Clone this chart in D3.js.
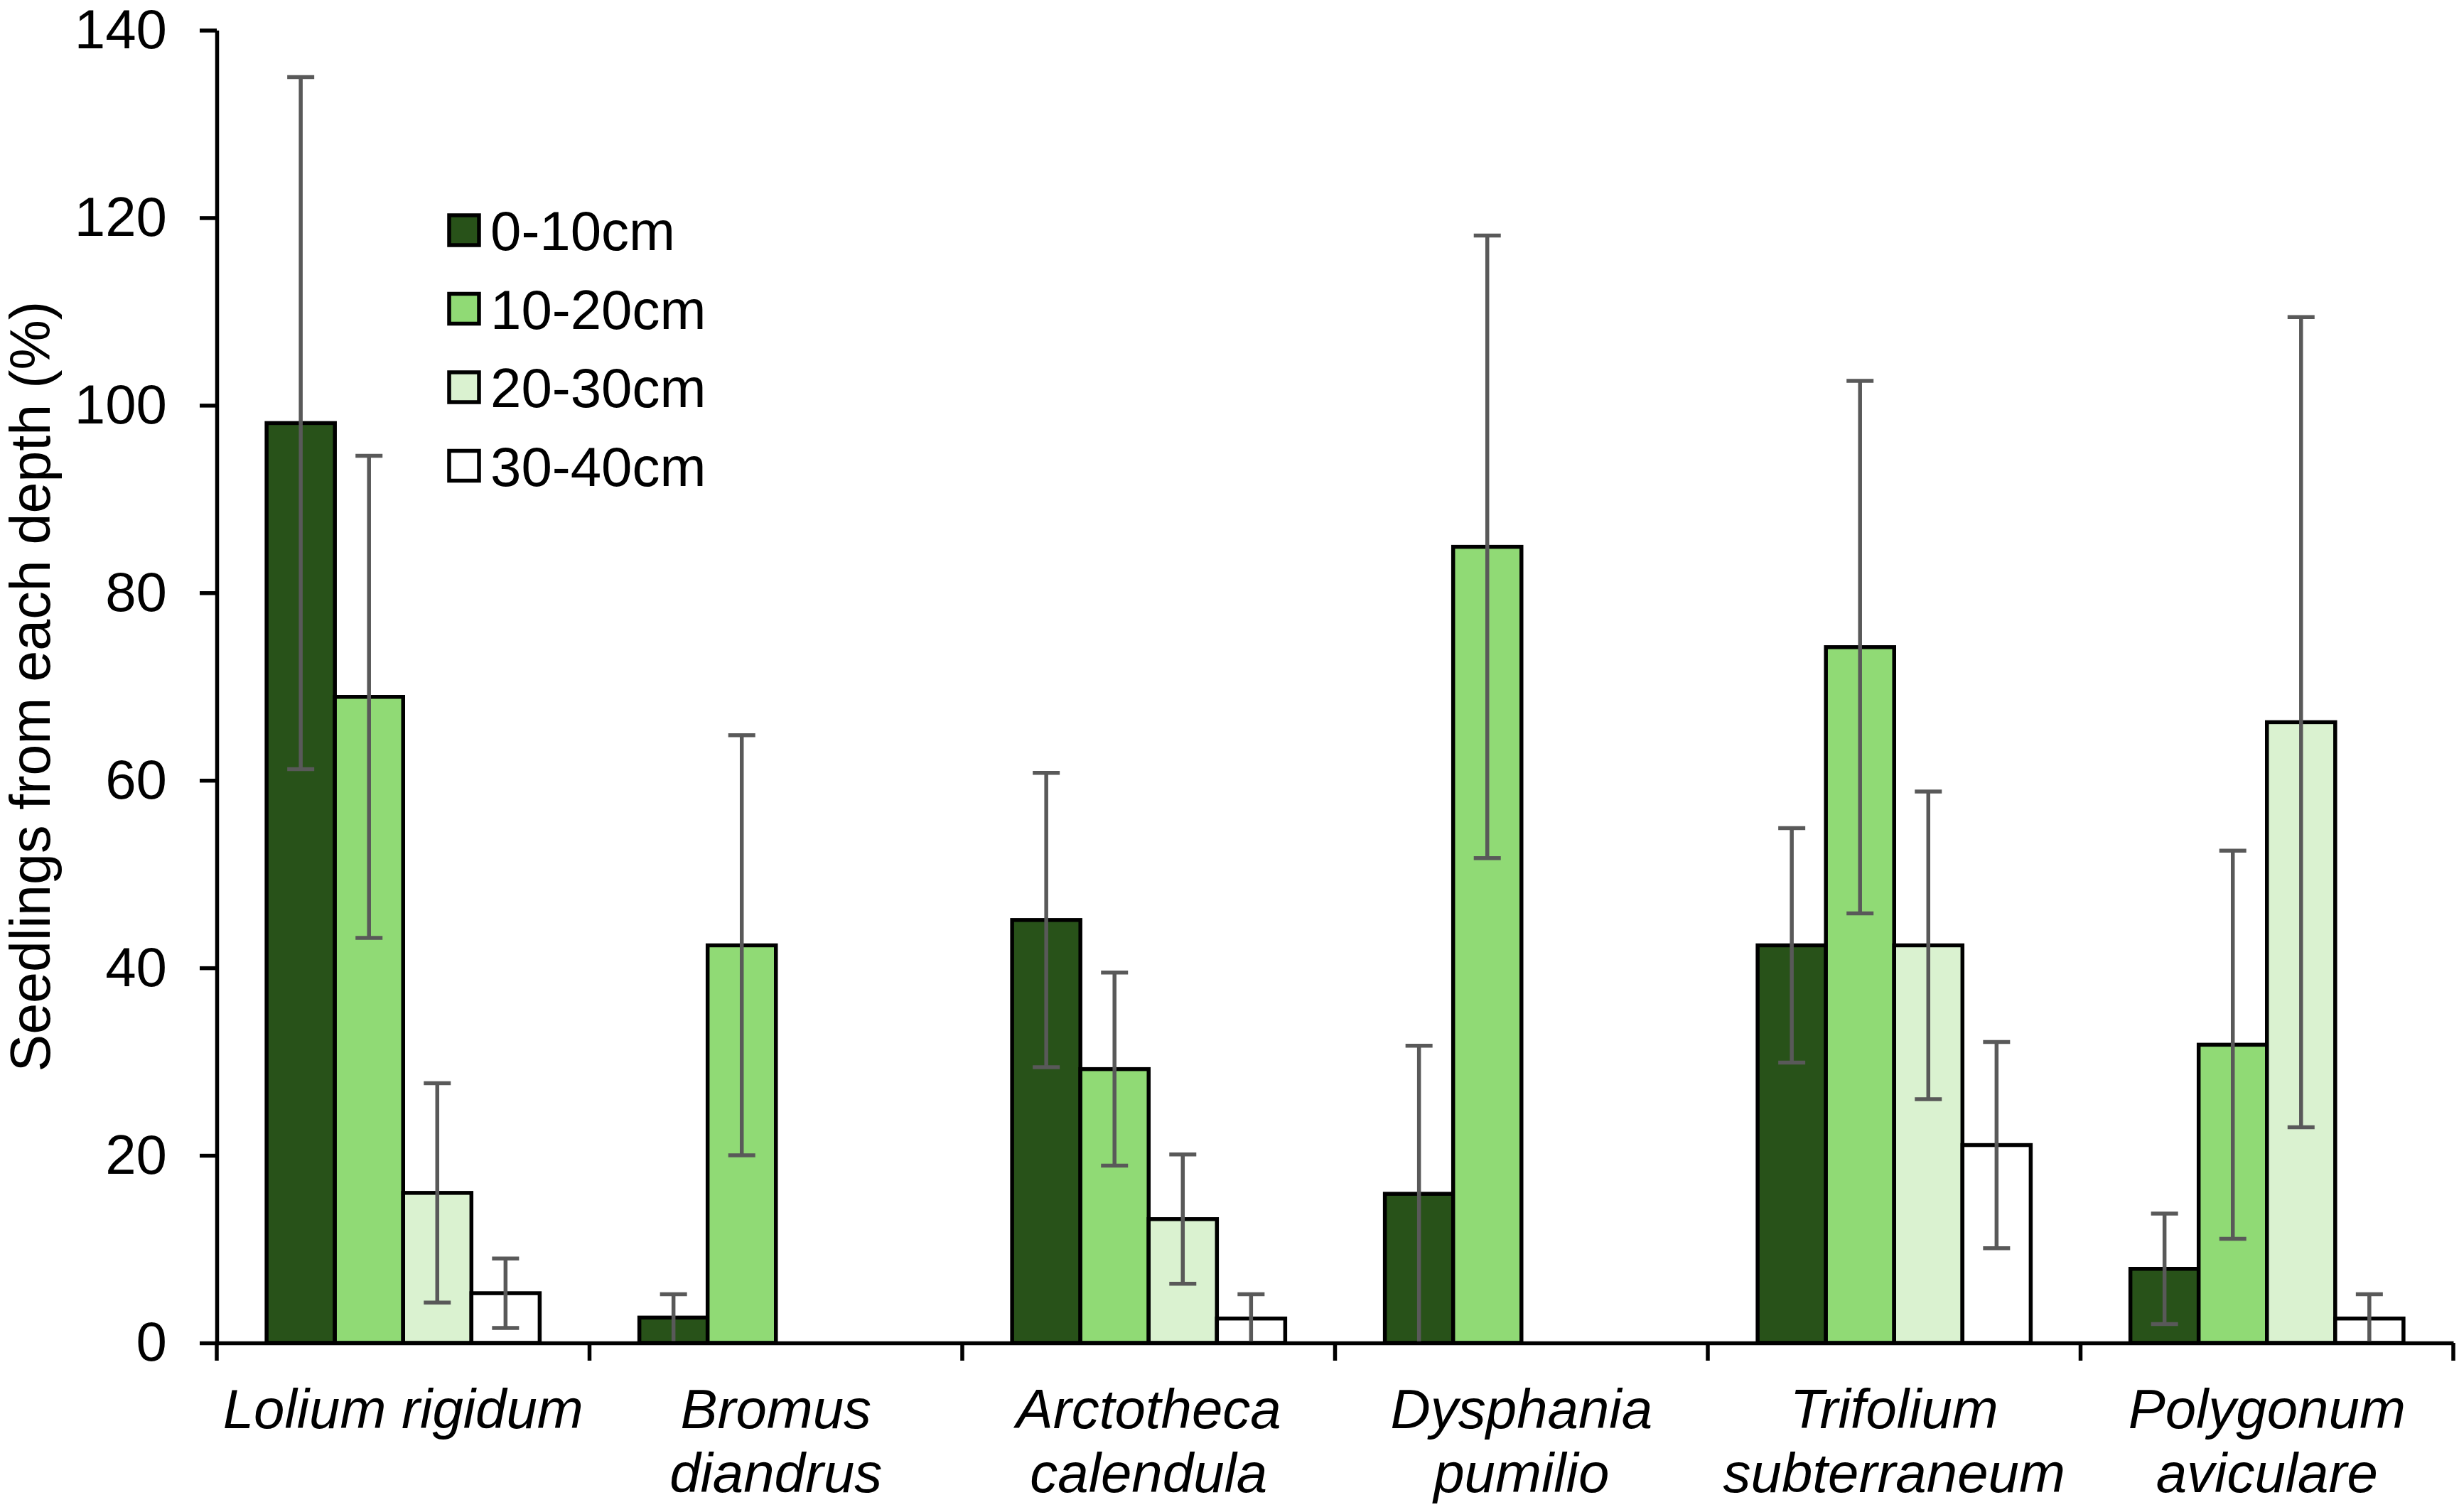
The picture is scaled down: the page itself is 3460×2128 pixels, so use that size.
<!DOCTYPE html>
<html>
<head>
<meta charset="utf-8">
<script src="https://cdn.jsdelivr.net/npm/d3@7"></script>
<style>
  body { margin: 0; background: #fff; }
  svg text { font-family: "Liberation Sans", Arial, sans-serif; fill: #000; }
</style>
</head>
<body>
<div id="chart"></div>
<script>

var species = ["Lolium rigidum", "Bromus diandrus", "Arctotheca calendula", "Dysphania pumilio", "Trifolium subterraneum", "Polygonum aviculare"];
var speciesLines = [["Lolium rigidum"], ["Bromus", "diandrus"], ["Arctotheca", "calendula"], ["Dysphania", "pumilio"], ["Trifolium", "subterraneum"], ["Polygonum", "aviculare"]];
var depths = ["0-10cm", "10-20cm", "20-30cm", "30-40cm"];
var depthColors = ["#285219", "#90da75", "#daf2d0", "#ffffff"];

var mean0to10  = [98.1, 2.7, 45.1, 15.9, 42.4, 7.9];
var se0to10    = [36.9, 2.5, 15.7, 15.8, 12.5, 5.9];
var mean10to20 = [68.9, 42.4, 29.2, 84.9, 74.2, 31.8];
var se10to20   = [25.7, 22.4, 10.3, 33.2, 28.4, 20.7];
var mean20to30 = [16.0, 0, 13.2, 0, 42.4, 66.2];
var se20to30   = [11.7, 0, 6.9, 0, 16.4, 43.2];
var mean30to40 = [5.3, 0, 2.6, 0, 21.1, 2.6];
var se30to40   = [3.7, 0, 2.6, 0, 11.0, 2.6];

var yTicks = [0, 20, 40, 60, 80, 100, 120, 140];
var yTitle = "Seedlings from each depth (%)";

function getData(){
    var means = [mean0to10, mean10to20, mean20to30, mean30to40];
    var ses = [se0to10, se10to20, se20to30, se30to40];
    var data = [];
    species.forEach(function(s, i){
        depths.forEach(function(d, j){
            data.push({ species: s, depth: d, color: depthColors[j], value: means[j][i], se: ses[j][i] });
        });
    });
    return data;
}

function drawChart(containerId, data){

    var width = 3460, height = 2128;
    var margin = {top: 42.5, right: 8, bottom: 238, left: 305};

    var svg = d3.select('#' + containerId).append("svg")
        .attr("width", width)
        .attr("height", height)
        .style("display", "block");

    var x0 = d3.scaleBand()
        .domain(species)
        .range([margin.left, width - margin.right]);

    var x1 = d3.scaleBand()
        .domain(depths)
        .range([0, x0.bandwidth()])
        .paddingOuter(0.73);

    var y = d3.scaleLinear()
        .domain([0, 140])
        .range([height - margin.bottom, margin.top]);

    // bars
    svg.append("g")
        .selectAll("rect")
        .data(data.filter(d => d.value > 0))
        .join("rect")
        .attr("x", d => x0(d.species) + x1(d.depth))
        .attr("y", d => y(d.value))
        .attr("width", x1.bandwidth())
        .attr("height", d => y(0) - y(d.value))
        .attr("fill", d => d.color)
        .attr("stroke", "#000")
        .attr("stroke-width", 5.5);

    // error bars
    var capW = 38;
    var err = svg.append("g")
        .attr("stroke", "#595959")
        .attr("stroke-width", 5.5)
        .selectAll("g")
        .data(data.filter(d => d.se > 0))
        .join("g")
        .attr("transform", d => "translate(" + (x0(d.species) + x1(d.depth) + x1.bandwidth() / 2) + ",0)");

    err.append("line")
        .attr("x1", 0).attr("x2", 0)
        .attr("y1", d => y(d.value + d.se))
        .attr("y2", d => y(Math.max(0, d.value - d.se)));
    err.append("line")
        .attr("x1", -capW / 2).attr("x2", capW / 2)
        .attr("y1", d => y(d.value + d.se))
        .attr("y2", d => y(d.value + d.se));
    err.filter(d => d.value - d.se > 0.5).append("line")
        .attr("x1", -capW / 2).attr("x2", capW / 2)
        .attr("y1", d => y(d.value - d.se))
        .attr("y2", d => y(d.value - d.se));

    // y axis
    var yAxis = svg.append("g")
        .attr("transform", "translate(" + margin.left + ",0)")
        .call(d3.axisLeft(y).tickValues(yTicks).tickSize(24).tickSizeOuter(0).tickPadding(46));
    yAxis.select(".domain").attr("stroke-width", 5.5);
    yAxis.selectAll(".tick line").attr("stroke-width", 5.5);
    yAxis.selectAll(".tick text")
        .attr("font-size", 78)
        .attr("font-family", "'Liberation Sans', Arial, sans-serif");

    // x axis
    var xAxis = svg.append("g")
        .attr("transform", "translate(0," + y(0) + ")")
        .call(d3.axisBottom(x0).tickSize(0).tickSizeOuter(0).tickFormat(""));
    xAxis.select(".domain").attr("stroke-width", 5.5);

    var bounds = species.map(s => x0(s)).concat([x0.range()[1]]);
    xAxis.selectAll("line.bound")
        .data(bounds)
        .join("line")
        .attr("class", "bound")
        .attr("x1", d => d).attr("x2", d => d)
        .attr("y1", 0).attr("y2", 25)
        .attr("stroke", "#000")
        .attr("stroke-width", 5.5);

    var labels = svg.append("g")
        .selectAll("text")
        .data(species)
        .join("text")
        .attr("x", d => x0(d) + x0.bandwidth() / 2)
        .attr("y", y(0) + 120)
        .attr("text-anchor", "middle")
        .attr("font-size", 78)
        .attr("font-style", "italic");

    labels.selectAll("tspan")
        .data((d, i) => speciesLines[i])
        .join("tspan")
        .attr("x", function(){ return d3.select(this.parentNode).attr("x"); })
        .attr("dy", (d, i) => i === 0 ? 0 : 90)
        .text(d => d);

    // y title
    svg.append("text")
        .attr("transform", "translate(70," + ((y(0) + y(140)) / 2) + ") rotate(-90)")
        .attr("text-anchor", "middle")
        .attr("font-size", 79)
        .text(yTitle);

    // legend
    var legend = svg.append("g")
        .selectAll("g")
        .data(depths)
        .join("g")
        .attr("transform", (d, i) => "translate(632," + (324 + i * 110.5) + ")");

    legend.append("rect")
        .attr("x", 0)
        .attr("y", -21)
        .attr("width", 42)
        .attr("height", 42)
        .attr("fill", (d, i) => depthColors[i])
        .attr("stroke", "#000")
        .attr("stroke-width", 5.5);

    legend.append("text")
        .attr("x", 58)
        .attr("dy", "0.36em")
        .attr("font-size", 78)
        .text(d => d);
}

drawChart('chart', getData());

</script>
</body>
</html>
